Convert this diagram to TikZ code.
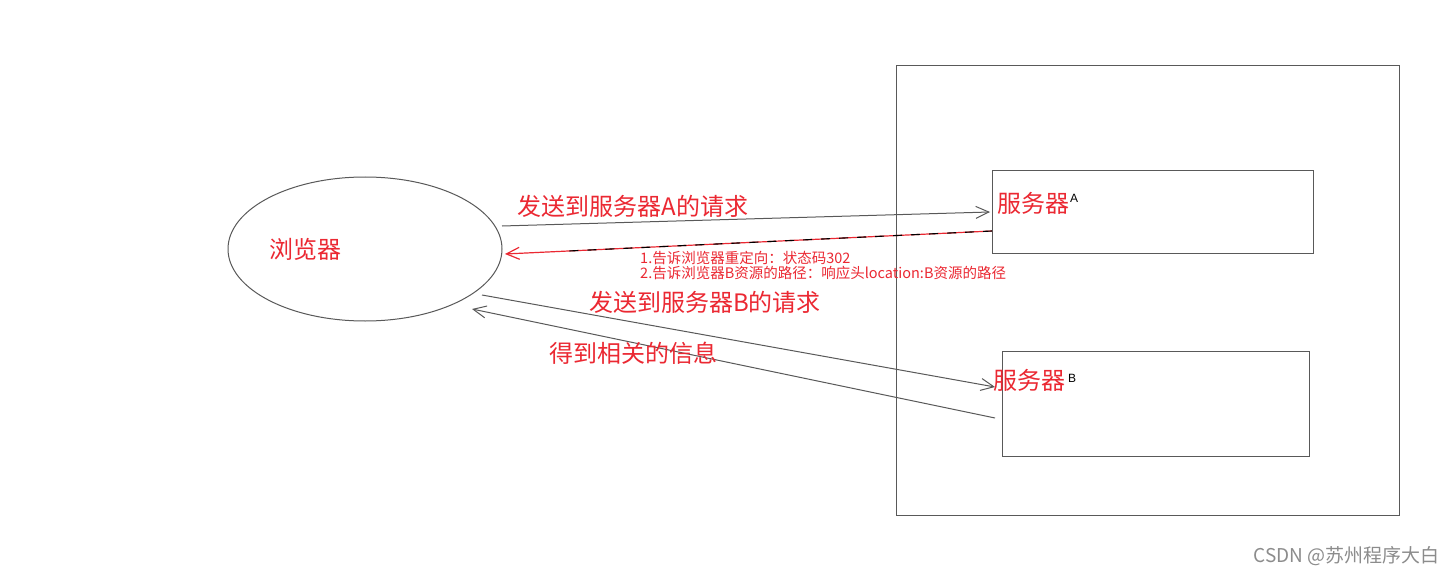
\documentclass[tikz,border=0pt]{standalone}
\usepackage{fontspec}
\setmainfont{Liberation Sans}
\newfontfamily\cjk{Noto Sans CJK SC}
\usetikzlibrary{arrows.meta,shapes.geometric,calc}
\definecolor{rd}{RGB}{235,40,50}
\begin{document}
\begin{tikzpicture}[x=1pt,y=-1pt,
  ln/.style={draw=black!65,line width=1pt},
  arr/.style={ln,-{Straight Barb[length=13pt,width=12pt]}},
  lbl/.style={text=rd,font=\cjk\fontsize{24}{24}\selectfont,inner sep=0pt},
  sm/.style={text=rd,font=\cjk\fontsize{14.5}{15}\selectfont,inner sep=0pt,anchor=west}]
\useasboundingbox[fill=white] (0,0) rectangle (1454,575);
\node[ellipse,draw=black!65,line width=1pt,minimum width=274pt,minimum height=144pt] (br) at (365,249) {};
\node[lbl] (brl) at (305,249) {浏览器};
\draw[ln] (896,66) rectangle (1399,515);
\coordinate (a1) at (992,171); \coordinate (a2) at (1313,253);
\draw[ln] (a1) rectangle (a2);
\coordinate (b1) at (1002,351); \coordinate (b2) at (1309,456);
\draw[ln] (b1) rectangle (b2);
\node[lbl,anchor=west] (sa) at (997,203) {服务器};
\node[font=\fontsize{12}{12}\selectfont,inner sep=0pt] (saA) at (1074,198) {A};
\node[lbl,anchor=west] (sb) at (993,380) {服务器};
\node[font=\fontsize{12}{12}\selectfont,inner sep=0pt] (sbB) at (1072,378) {B};
\coordinate (p1) at (502,226); \coordinate (p2) at (990,212);
\draw[arr] (p1) -- (p2);
\coordinate (r1) at (992,231); \coordinate (r2) at (505,254);
\draw[draw=rd,line width=1.2pt,-{Straight Barb[length=13pt,width=12pt]}] (r1) -- (r2);
\draw[black,line width=1.1pt,dash pattern=on 9pt off 9pt] (r1) -- ($(r1)!0.88!(r2)$);
\coordinate (q1) at (482,295); \coordinate (q2) at (995,387);
\draw[arr] (q1) -- (q2);
\coordinate (s1) at (995,418); \coordinate (s2) at (472,309);
\draw[arr] (s1) -- (s2);
\node[lbl] (la) at (633,206) {发送到服务器A的请求};
\node[lbl] (lb) at (705,302) {发送到服务器B的请求};
\node[lbl] (lc) at (633,353) {得到相关的信息};
\node[sm] (t1) at (640,258) {1.告诉浏览器重定向：状态码302};
\node[sm] (t2) at (640,273) {2.告诉浏览器B资源的路径：响应头location:B资源的路径};
\node[text=black!45,font=\cjk\fontsize{19}{19}\selectfont,anchor=east,inner sep=0pt] (wm) at (1440,556) {CSDN @苏州程序大白};
\end{tikzpicture}
\end{document}
